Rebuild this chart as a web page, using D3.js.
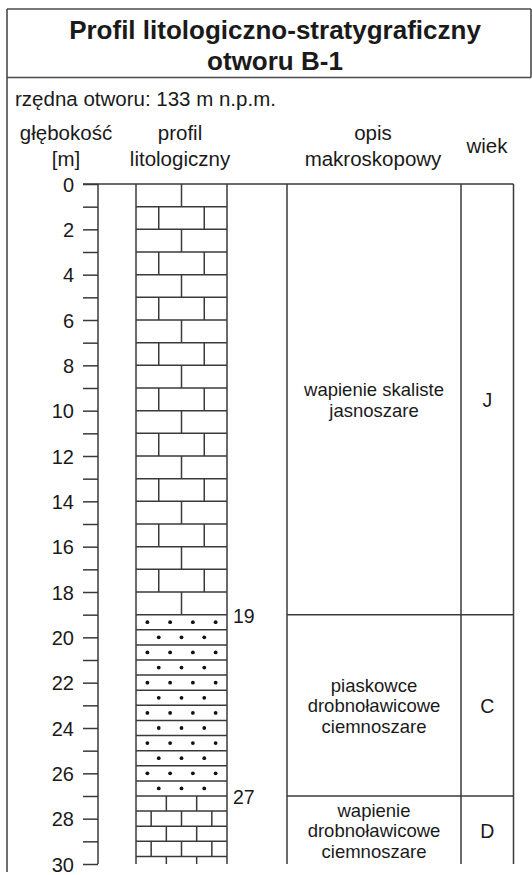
<!DOCTYPE html>
<html><head><meta charset="utf-8">
<script src="https://cdn.jsdelivr.net/npm/d3@7"></script>
<style>
html,body{margin:0;padding:0;background:#fff;}
svg text{font-family:"Liberation Sans",Arial,Helvetica,sans-serif;fill:#1a1a1a;}
</style></head>
<body>
<svg id="chart" width="532" height="875"></svg>
<script>
// ---- data ----
const title = ["Profil litologiczno-stratygraficzny", "otworu B-1"];
const elevationLabel = "rzędna otworu: 133 m n.p.m.";
const headers = {depth:["głębokość","[m]"], profile:["profil","litologiczny"], desc:["opis","makroskopowy"], age:["wiek"]};
const layerTop = [0, 19, 27];
const layerBottom = [19, 27, 30];
const lithology = ["limestone", "sandstone", "limestoneThin"];
const bedThickness = [1, 2/3, 2/3];
const descriptions = [["wapienie skaliste","jasnoszare"],["piaskowce","drobnoławicowe","ciemnoszare"],["wapienie","drobnoławicowe","ciemnoszare"]];
const ages = ["J", "C", "D"];
const boundaryLabels = [19, 27];
const depthTicks = d3.range(0, 31, 1);
const depthLabels = [0,2,4,6,8,10,12,14,16,18,20,22,24,26,28,30];

// pattern definitions (fractions of the column width)
const patterns = {
  limestone: {joints: [[0.5],[0.25,0.75]]},
  limestoneThin: {joints: [[1/3,2/3],[1/6,0.5,5/6]]},
  sandstone: {dots: [[1/8,3/8,5/8,7/8],[1/4,1/2,3/4]]}
};

// ---- layout ----
const svg = d3.select("#chart");
const stroke = "#3a3a3a";
const y = d3.scaleLinear().domain([0, 30]).range([184, 864]);
const colX = d3.scaleLinear().domain([0, 1]).range([136, 227]);
const axisX = 98, descL = 287, ageL = 461, tableR = 513.5;
const font = "'Liberation Sans',Arial,sans-serif";

// frame
const frame = svg.append("g").attr("stroke", "#4a4a4a").attr("stroke-width", 1.6).attr("fill","none");
frame.append("line").attr("x1",7).attr("x2",7).attr("y1",9).attr("y2",872);
frame.append("line").attr("x1",7).attr("x2",531).attr("y1",9).attr("y2",9);
frame.append("line").attr("x1",531).attr("x2",531).attr("y1",9).attr("y2",77.5);
frame.append("line").attr("x1",7).attr("x2",531).attr("y1",77.5).attr("y2",77.5);

// title
svg.append("g").selectAll("text").data(title).join("text")
  .attr("x", 275).attr("y", (d,i)=> 38.5 + i*31)
  .attr("text-anchor","middle").attr("font-weight","bold").attr("font-size",26)
  .text(d=>d);

svg.append("text").attr("x",15).attr("y",106).attr("font-size",20.5).text(elevationLabel);

// headers
function header(lines, cx, y0){
  svg.append("g").selectAll("text").data(lines).join("text")
    .attr("x", cx).attr("y", (d,i)=> y0 + i*25.5)
    .attr("text-anchor","middle").attr("font-size",20.5).text(d=>d);
}
header(headers.depth, 66, 140);
header(headers.profile, 180, 140);
header(headers.desc, 373, 140);
header(headers.age, 487, 152.5);

// depth axis
const axis = d3.axisLeft(y).tickValues(depthTicks).tickSize(15).tickPadding(9)
  .tickFormat(d => depthLabels.includes(d) ? d : "");
const ag = svg.append("g").attr("transform", `translate(${axisX},0)`).call(axis);
ag.select(".domain").attr("stroke", stroke).attr("stroke-width",1.5).attr("d", `M0,${y(0)}V${y(30)}`);
ag.selectAll(".tick line").attr("stroke", stroke).attr("stroke-width",1.5);
ag.selectAll(".tick text").attr("font-size",20).attr("font-family",font).attr("fill","#1a1a1a").attr("dy","0.36em");

// table lines
const tl = svg.append("g").attr("stroke", stroke).attr("stroke-width",1.5).attr("fill","none");
tl.append("line").attr("x1", axisX-15).attr("x2", tableR).attr("y1", y(0)).attr("y2", y(0));
[colX(0), colX(1), descL, ageL, tableR].forEach(x=>{
  tl.append("line").attr("x1",x).attr("x2",x).attr("y1",y(0)).attr("y2",y(30));
});
layerTop.slice(1).forEach(d=>{
  tl.append("line").attr("x1",descL).attr("x2",tableR).attr("y1",y(d)).attr("y2",y(d));
});

// lithology patterns
const pg = svg.append("g");
layerTop.forEach((top,li)=>{
  const bot = layerBottom[li], t = bedThickness[li], pat = patterns[lithology[li]];
  const n = Math.ceil((bot - top)/t - 1e-6);
  for(let k=0;k<n;k++){
    const b0 = top + k*t, b1 = Math.min(bot, top + (k+1)*t);
    if(k>0 || li>0) pg.append("line").attr("stroke",stroke).attr("stroke-width",1.5)
      .attr("x1",colX(0)).attr("x2",colX(1)).attr("y1",y(b0)).attr("y2",y(b0));
    if(pat.joints){
      pat.joints[k%2].forEach(f=>{
        pg.append("line").attr("stroke",stroke).attr("stroke-width",1.5)
          .attr("x1",colX(f)).attr("x2",colX(f)).attr("y1",y(b0)).attr("y2",y(b1));
      });
    }
    if(pat.dots){
      pat.dots[k%2].forEach(f=>{
        pg.append("circle").attr("cx",colX(f)).attr("cy",(y(b0)+y(b1))/2).attr("r",1.9).attr("fill","#111");
      });
    }
  }
});

// boundary depth labels
svg.append("g").selectAll("text").data(boundaryLabels).join("text")
  .attr("x", 233).attr("y", d=> y(d)+8.3).attr("font-size",19.5).text(d=>d);

// descriptions
const lh = 20.5;
descriptions.forEach((lines,li)=>{
  const cy = (y(layerTop[li]) + y(layerBottom[li]))/2;
  svg.append("g").selectAll("text").data(lines).join("text")
    .attr("x", (descL+ageL)/2).attr("y",(d,i)=> cy + (i-(lines.length-1)/2)*lh + 7)
    .attr("text-anchor","middle").attr("font-size",18.5).text(d=>d);
});
svg.append("g").selectAll("text").data(ages).join("text")
  .attr("x", (ageL+tableR)/2).attr("y", (d,i)=> (y(layerTop[i])+y(layerBottom[i]))/2 + 7.5)
  .attr("text-anchor","middle").attr("font-size",19.5).text(d=>d);
</script>
</body></html>
